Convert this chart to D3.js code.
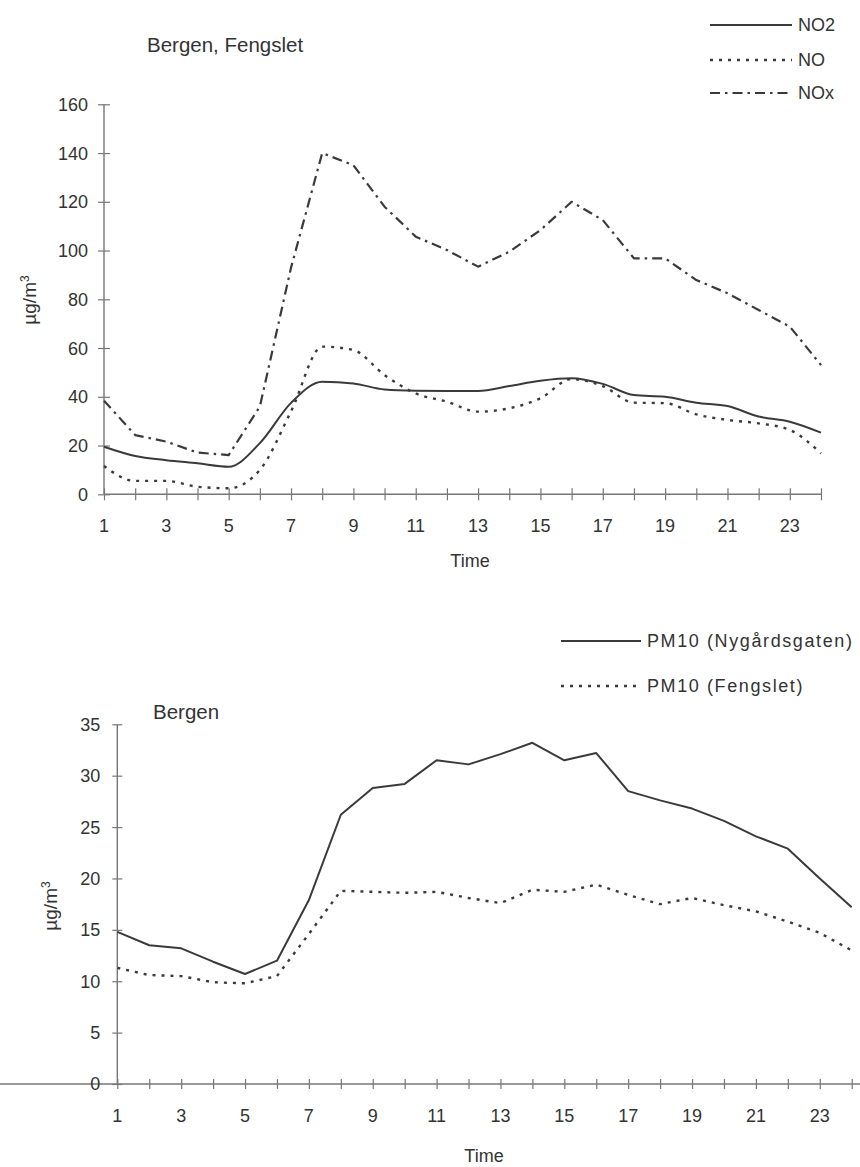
<!DOCTYPE html>
<html>
<head>
<meta charset="utf-8">
<script src="https://cdn.jsdelivr.net/npm/d3@7"></script>
<style>
  html, body { margin: 0; padding: 0; background: #fff; }
  svg { display: block; }
  text { font-family: "Liberation Sans", Arial, Helvetica, sans-serif; fill: #333; }
</style>
</head>
<body>
<svg id="chart" width="860" height="1167"></svg>
<script>
// Hours of the day (x categories)
const hours = [1,2,3,4,5,6,7,8,9,10,11,12,13,14,15,16,17,18,19,20,21,22,23,24];
const hourLabels = [1,3,5,7,9,11,13,15,17,19,21,23];

// Upper panel: Bergen, Fengslet (µg/m³)
const no2 = [19.5,15.7,14.0,12.7,11.3,21.0,37.5,46.2,45.5,43.0,42.5,42.4,42.4,44.4,46.6,47.6,45.3,40.7,40.0,37.6,36.2,31.9,29.8,25.3];
const no  = [11.6,5.5,5.5,3.1,2.5,10.0,34.0,60.6,59.2,48.9,41.4,38.0,33.9,35.3,39.4,47.3,44.4,37.6,37.4,32.8,30.5,29.1,26.4,16.8];
const nox = [38.4,24.3,21.6,17.1,16.1,36.0,93.0,140.0,135.0,118.0,105.7,100.2,93.4,99.5,108.4,120.0,112.5,96.8,96.8,87.9,82.5,75.6,68.8,53.0];
const topYTicks = [0,20,40,60,80,100,120,140,160];

// Lower panel: Bergen PM10 (µg/m³)
const pmNygard  = [14.8,13.5,13.2,11.9,10.7,12.0,17.9,26.2,28.8,29.2,31.5,31.1,32.1,33.2,31.5,32.2,28.5,27.6,26.8,25.6,24.1,22.9,20.0,17.2];
const pmFengsel = [11.3,10.6,10.5,9.9,9.8,10.5,14.6,18.8,18.7,18.6,18.7,18.1,17.6,18.9,18.7,19.4,18.4,17.5,18.1,17.4,16.8,15.8,14.7,13.0];
const botYTicks = [0,5,10,15,20,25,30,35];

const svg = d3.select("#chart");
const axisColor = "#777";
const lineColor = "#3a3a3a";
const fontSize = 18;

function drawAxes(g, x, y, yTicks, opts) {
  // x axis: a tick every hour, labels on odd hours
  const xa = g.append("g").attr("transform", `translate(0,${y(0)})`)
    .call(d3.axisBottom(x).tickValues(hours).tickSize(0).tickFormat(""));
  xa.select(".domain").remove();
  xa.selectAll(".tick line").attr("y1", -opts.tick).attr("y2", opts.tick)
    .attr("stroke", axisColor).attr("stroke-width", 1.2);
  g.append("line")
    .attr("x1", opts.xLineStart != null ? opts.xLineStart : x(1))
    .attr("x2", opts.xLineEnd != null ? opts.xLineEnd : x(24))
    .attr("y1", y(0)).attr("y2", y(0))
    .attr("stroke", axisColor).attr("stroke-width", 1.4);
  g.selectAll(".xlab").data(hourLabels).enter().append("text")
    .attr("x", d => x(d)).attr("y", y(0) + opts.xLabOff)
    .attr("text-anchor", "middle").attr("font-size", fontSize)
    .text(d => d);

  // y axis
  const ya = g.append("g").attr("transform", `translate(${x(1)},0)`)
    .call(d3.axisLeft(y).tickValues(yTicks).tickSize(0).tickFormat(""));
  ya.select(".domain").remove();
  ya.selectAll(".tick line").attr("x1", -opts.tick).attr("x2", opts.tick)
    .attr("stroke", axisColor).attr("stroke-width", 1.2);
  g.append("line")
    .attr("x1", x(1)).attr("x2", x(1))
    .attr("y1", y(0)).attr("y2", y(yTicks[yTicks.length - 1]))
    .attr("stroke", axisColor).attr("stroke-width", 1.4);
  g.selectAll(".ylab").data(yTicks).enter().append("text")
    .attr("x", x(1) - opts.yLabOff).attr("y", d => y(d))
    .attr("dy", "0.36em")
    .attr("text-anchor", "end").attr("font-size", fontSize)
    .text(d => d);
}

function drawSeries(g, x, y, values, style, curve) {
  const line = d3.line().x((d, i) => x(hours[i])).y(d => y(d)).curve(curve || d3.curveLinear);
  g.append("path").datum(values)
    .attr("d", line)
    .attr("fill", "none")
    .attr("stroke", lineColor)
    .attr("stroke-width", style.width)
    .attr("stroke-dasharray", style.dash || null)
    .attr("stroke-linejoin", "round");
}

function legendItem(g, x1, x2, yy, label, style, spacing) {
  g.append("line").attr("x1", x1).attr("x2", x2).attr("y1", yy).attr("y2", yy)
    .attr("stroke", lineColor).attr("stroke-width", style.width)
    .attr("stroke-dasharray", style.dash || null);
  g.append("text").attr("x", x2 + 6).attr("y", yy).attr("dy", "0.36em")
    .attr("font-size", fontSize)
    .attr("letter-spacing", spacing || 0)
    .text(label);
}

function unitLabel(g, cx, cy) {
  g.append("text").attr("transform", `translate(${cx},${cy}) rotate(-90)`)
    .attr("text-anchor", "middle").attr("font-size", 19)
    .html("µg/m<tspan dy='-7' font-size='12'>3</tspan>");
}

const solid = { width: 2 };
const dotted = { width: 2.4, dash: "3,6" };
const dashDot = { width: 2.2, dash: "10,5,2.5,5" };

// ---------- Upper panel ----------
{
  const g = svg.append("g");
  const x = d3.scaleLinear().domain([1, 24]).range([104, 821]);
  const y = d3.scaleLinear().domain([0, 160]).range([494.3, 104.3]);
  drawAxes(g, x, y, topYTicks, { tick: 6, xLabOff: 38, yLabOff: 16 });

  drawSeries(g, x, y, nox, dashDot);
  drawSeries(g, x, y, no, dotted, d3.curveMonotoneX);
  drawSeries(g, x, y, no2, solid, d3.curveMonotoneX);

  g.append("text").attr("x", 147).attr("y", 52).attr("font-size", 20.5).text("Bergen, Fengslet");
  g.append("text").attr("x", 470).attr("y", 567).attr("text-anchor", "middle")
    .attr("font-size", fontSize).text("Time");
  unitLabel(g, 36, 300);

  legendItem(g, 710, 792, 25, "NO2", solid);
  legendItem(g, 710, 792, 60, "NO", dotted);
  legendItem(g, 710, 792, 93, "NOx", dashDot);
}

// ---------- Lower panel ----------
{
  const g = svg.append("g");
  const x = d3.scaleLinear().domain([1, 24]).range([117.3, 851.7]);
  const y = d3.scaleLinear().domain([0, 35]).range([1084, 724.3]);
  drawAxes(g, x, y, botYTicks, { tick: 5, xLabOff: 38, yLabOff: 17, xLineStart: 0, xLineEnd: 860 });

  drawSeries(g, x, y, pmFengsel, dotted);
  drawSeries(g, x, y, pmNygard, solid);

  g.append("text").attr("x", 153).attr("y", 719).attr("font-size", 20.5).text("Bergen");
  g.append("text").attr("x", 484).attr("y", 1162).attr("text-anchor", "middle")
    .attr("font-size", fontSize).text("Time");
  unitLabel(g, 57, 906);

  legendItem(g, 561, 641, 641, "PM10 (Nygårdsgaten)", solid, 1.6);
  legendItem(g, 561, 641, 686, "PM10 (Fengslet)", dotted, 1.6);
}
</script>
</body>
</html>
